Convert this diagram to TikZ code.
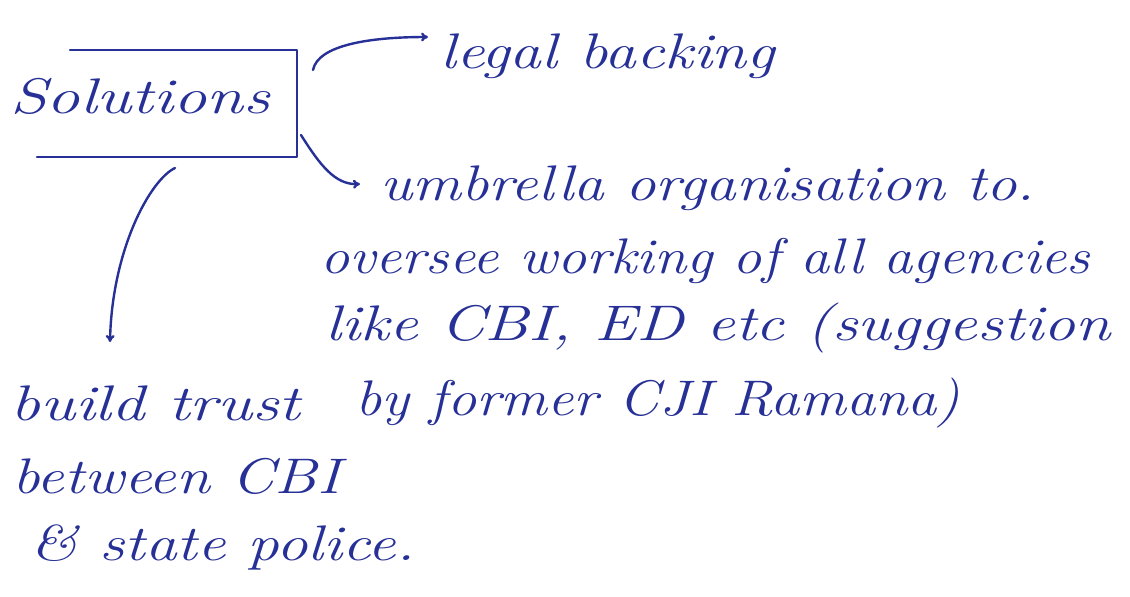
\documentclass[tikz,border=0pt]{standalone}
\usetikzlibrary{arrows.meta}
\definecolor{ink}{RGB}{38,48,150}
\newcommand{\fitw}[2]{\resizebox{#1}{\height}{#2}}
\begin{document}
\begin{tikzpicture}[x=1pt,y=-1pt,
  hand/.style={anchor=base west,inner sep=0pt,text=ink,font=\fontsize{50}{56}\selectfont\itshape},
  pen/.style={draw=ink,line width=2.4pt,line cap=round,line join=round},
  arr/.style={pen,-{To[length=7pt,width=9pt]}}]
\useasboundingbox (0,0) rectangle (1130,597);
% box around Solutions
\node[hand] (sol) at (10,113) {\fitw{260pt}{Solutions}};
\coordinate (bTL) at (70,50);
\coordinate (bTR) at (297,50);
\coordinate (bBR) at (297,157);
\coordinate (bBL) at (37,157);
\draw[pen] (bTL) -- (bTR) -- (bBR) -- (bBL);
% texts
\node[hand] (legal) at (440,68) {\fitw{335pt}{legal backing}};
\node[hand] (u1) at (380,200) {\fitw{655pt}{umbrella organisation to.}};
\node[hand] (u2) at (320,273) {\fitw{770pt}{oversee working of all agencies}};
\node[hand] (u3) at (325,340) {\fitw{785pt}{like CBI, ED etc (suggestion}};
\node[hand] (u4) at (355,415) {\fitw{605pt}{by former CJI Ramana)}};
\node[hand] (b1) at (10,420) {\fitw{290pt}{build trust}};
\node[hand] (b2) at (12,493) {\fitw{328pt}{between CBI}};
\node[hand] (b3) at (30,560) {\fitw{385pt}{\& state police.}};
% connectors
\coordinate (a1s) at (313,70);
\coordinate (a1e) at (428,37);
\draw[arr] (a1s) .. controls (318,45) and (370,37) .. (a1e);
\coordinate (a2s) at (301,135);
\coordinate (a2e) at (360,184);
\draw[arr] (a2s) .. controls (320,165) and (335,185) .. (a2e);
\coordinate (a3s) at (175,168);
\coordinate (a3e) at (110,342);
\draw[arr] (a3s) .. controls (150,180) and (112,250) .. (a3e);
\end{tikzpicture}
\end{document}
